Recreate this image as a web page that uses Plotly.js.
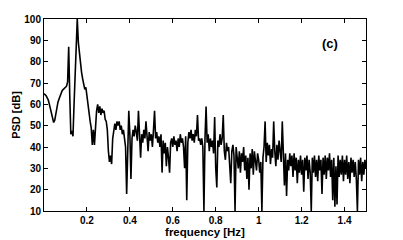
<!DOCTYPE html>
<html>
<head>
<meta charset="utf-8">
<script src="https://cdn.plot.ly/plotly-3.0.1.min.js"></script>
<style>html,body{margin:0;padding:0;background:#fff;}#chart{width:403px;height:240px;}</style>
</head>
<body>
<div id="chart"></div>
<script>
// PSD values [dB] on a 0.005 Hz grid starting at 0 Hz
const freqStep = 0.005;
const psd = [
  65, 64.5, 64, 63, 62, 60, 58, 55.5, 53, 51.5,
  52.5, 56, 59, 61, 62.5, 64, 65.5, 66.5, 67, 67.5,
  68, 68.5, 70.5, 87, 64, 46, 47.5, 45, 60, 74,
  86, 100, 89, 83, 78, 75, 72, 70, 67, 68,
  63, 60, 56, 52, 49, 41, 48, 41, 53, 57,
  60, 56, 59, 55, 58, 56, 57, 53, 52, 48,
  38, 33, 36, 32, 44, 49, 51, 48, 52, 50,
  52, 48, 50, 46, 48, 44, 40, 18, 42, 57,
  46, 25, 44, 48, 45, 50, 47, 43, 57, 45,
  35, 46, 42, 48, 44, 52, 45, 38, 47, 43,
  46, 40, 48, 57, 44, 47, 42, 45, 40, 46,
  28, 43, 37, 42, 31, 40, 35, 28, 42, 44,
  40, 45, 41, 43, 38, 44, 40, 46, 42, 44,
  40, 30, 45, 15, 42, 47, 44, 48, 43, 46,
  42, 48, 45, 55, 43, 44, 41, 44, 40, 10,
  44, 59, 42, 46, 38, 44, 40, 43, 37, 54,
  30, 21, 43, 40, 46, 41, 44, 55, 38, 34,
  42, 38, 40, 28, 23, 38, 41, 36, 10, 40,
  36, 30, 38, 28, 37, 33, 40, 29, 36, 25,
  35, 20, 37, 30, 39, 27, 38, 32, 29, 37,
  34, 28, 33, 10, 35, 40, 52, 33, 42, 36,
  41, 32, 39, 35, 52, 38, 31, 41, 34, 43,
  38, 33, 52, 30, 22, 37, 17, 34, 29, 37,
  31, 36, 26, 37, 29, 35, 23, 34, 28, 36,
  27, 34, 19, 35, 29, 36, 25, 34, 28, 10,
  35, 28, 36, 26, 34, 24, 36, 29, 34, 18,
  35, 27, 36, 25, 35, 29, 37, 26, 34, 15,
  35, 12, 31, 13, 36, 26, 34, 27, 36, 24,
  34, 27, 36, 25, 33, 23, 35, 28, 34, 26,
  33, 25, 10, 34, 27, 35, 24, 33, 27, 34, 30
];
const freq = psd.map((_, i) => +(i * freqStep).toFixed(3));
const xTicks = [0.2, 0.4, 0.6, 0.8, 1, 1.2, 1.4];
const xTickText = ['0.2', '0.4', '0.6', '0.8', '1', '1.2', '1.4'];
const yTicks = [10, 20, 30, 40, 50, 60, 70, 80, 90, 100];
const panelLabel = '(c)';

const fontFam = '"Liberation Sans", Arial, Helvetica, sans-serif';
const axisCommon = {
  showline: true, linecolor: '#000', linewidth: 1, mirror: 'ticks',
  ticks: 'inside', ticklen: 4, tickcolor: '#000', tickwidth: 1,
  showgrid: false, zeroline: false,
  tickfont: {family: fontFam, size: 10, color: '#000', weight: 'bold'}
};

const trace = {
  x: freq, y: psd, type: 'scatter', mode: 'lines',
  line: {color: '#000', width: 1.6},
  hoverinfo: 'none', cliponaxis: true
};

const layout = {
  width: 403, height: 240,
  margin: {l: 44, r: 37, t: 19, b: 29},
  paper_bgcolor: '#fff', plot_bgcolor: '#fff',
  showlegend: false,
  xaxis: Object.assign({}, axisCommon, {
    range: [0, 1.5], tickvals: xTicks, ticktext: xTickText,
    title: {text: 'frequency [Hz]', font: {family: fontFam, size: 11.5, color: '#000', weight: 'bold'}, standoff: 0}
  }),
  yaxis: Object.assign({}, axisCommon, {
    range: [10, 100], tickvals: yTicks,
    title: {text: 'PSD [dB]', font: {family: fontFam, size: 11, color: '#000', weight: 'bold'}, standoff: 1}
  }),
  annotations: [{
    text: panelLabel, xref: 'paper', yref: 'paper', x: 0.888, y: 0.875,
    showarrow: false, font: {family: fontFam, size: 13, color: '#000', weight: 'bold'},
    xanchor: 'center', yanchor: 'middle'
  }]
};

Plotly.newPlot('chart', [trace], layout, {displayModeBar: false, staticPlot: true});
</script>
</body>
</html>
